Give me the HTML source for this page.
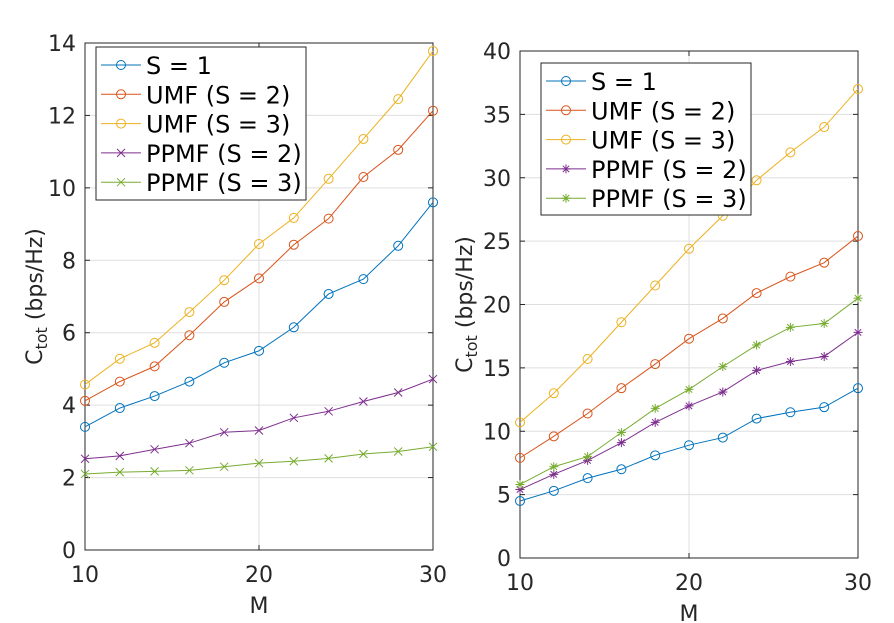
<!DOCTYPE html>
<html><head><meta charset="utf-8"><style>
body{margin:0;background:#fff;}
svg{display:block;font-family:"DejaVu Sans","Liberation Sans",sans-serif;}
</style></head><body>
<svg id="fig" width="894" height="623"></svg>
<script>
const mVals=[10,12,14,16,18,20,22,24,26,28,30];
const leftS1=[3.4,3.92,4.25,4.65,5.17,5.5,6.15,7.07,7.48,8.4,9.6];
const leftUMF2=[4.12,4.65,5.07,5.93,6.85,7.5,8.43,9.15,10.3,11.05,12.13];
const leftUMF3=[4.57,5.28,5.72,6.57,7.45,8.45,9.17,10.25,11.35,12.45,13.78];
const leftPPMF2=[2.52,2.6,2.78,2.95,3.25,3.3,3.65,3.83,4.1,4.35,4.72];
const leftPPMF3=[2.1,2.15,2.17,2.2,2.3,2.4,2.45,2.53,2.65,2.72,2.85];
const rightS1=[4.5,5.3,6.3,7.0,8.1,8.9,9.5,11.0,11.5,11.9,13.4];
const rightUMF2=[7.9,9.6,11.4,13.4,15.3,17.3,18.9,20.9,22.2,23.3,25.4];
const rightUMF3=[10.7,13.0,15.7,18.6,21.5,24.4,27.0,29.8,32.0,34.0,37.0];
const rightPPMF2=[5.4,6.6,7.7,9.1,10.7,12.0,13.1,14.8,15.5,15.9,17.8];
const rightPPMF3=[5.8,7.2,8.0,9.9,11.8,13.3,15.1,16.8,18.2,18.5,20.5];
const xTicks=[10,20,30];
const leftYTicks=[0,2,4,6,8,10,12,14];
const rightYTicks=[0,5,10,15,20,25,30,35,40];
const labels=["S = 1","UMF (S = 2)","UMF (S = 3)","PPMF (S = 2)","PPMF (S = 3)"];
const colors=["#0072BD","#D95319","#EDB120","#7E2F8E","#77AC30"];

const NS="http://www.w3.org/2000/svg";
const svg=document.getElementById('fig');
function mk(tag,attrs,parent){const e=document.createElementNS(NS,tag);for(const k in attrs)e.setAttribute(k,attrs[k]);(parent||svg).appendChild(e);return e;}

function drawPanel(name,box,ymax,yTicks,series,markers,legBox,ylabX){
  const g=mk('g',{});
  
  
  const X=v=>box.x0+(v-10)/20*(box.x1-box.x0);
  const Y=v=>box.y1-v/ymax*(box.y1-box.y0);
  xTicks.forEach(t=>{const l=mk('line',{x1:X(t),x2:X(t),y1:box.y0,y2:box.y1,stroke:'#dfdfdf','stroke-width':1},g);});
  yTicks.forEach(t=>{const l=mk('line',{x1:box.x0,x2:box.x1,y1:Y(t),y2:Y(t),stroke:'#dfdfdf','stroke-width':1},g);});
  const r=mk('rect',{x:box.x0,y:box.y0,width:box.x1-box.x0,height:box.y1-box.y0,fill:'none',stroke:'#262626','stroke-width':1},g);
  
  xTicks.forEach(t=>{
    mk('line',{x1:X(t),x2:X(t),y1:box.y1,y2:box.y1-5,stroke:'#262626'},g);
    mk('line',{x1:X(t),x2:X(t),y1:box.y0,y2:box.y0+5,stroke:'#262626'},g);
    const tx=mk('text',{x:X(t),y:box.y1+32,'font-size':22,fill:'#262626','text-anchor':'middle'},g);tx.textContent=t;
    
  });
  yTicks.forEach(t=>{
    mk('line',{x1:box.x0,x2:box.x0+5,y1:Y(t),y2:Y(t),stroke:'#262626'},g);
    mk('line',{x1:box.x1,x2:box.x1-5,y1:Y(t),y2:Y(t),stroke:'#262626'},g);
    const tx=mk('text',{x:box.x0-9,y:Y(t)+8,'font-size':22,fill:'#262626','text-anchor':'end'},g);tx.textContent=t;
    
  });
  const xl=mk('text',{x:(box.x0+box.x1)/2,y:box.y1+63,'font-size':22,fill:'#262626','text-anchor':'middle'},g);xl.textContent='M';
  
  const yl=mk('text',{transform:`translate(${ylabX},${(box.y0+box.y1)/2}) rotate(-90)`,'font-size':22,fill:'#262626','text-anchor':'middle'},g);
  yl.innerHTML='C<tspan font-size="16" dy="5">tot</tspan><tspan dy="-5"> (bps/Hz)</tspan>';
  
  function marker(type,x,y,c,parent){
    if(type==='o')mk('circle',{cx:x,cy:y,r:4.5,fill:'none',stroke:c,'stroke-width':1},parent);
    else if(type==='x'){mk('path',{d:`M${x-4},${y-4}L${x+4},${y+4}M${x-4},${y+4}L${x+4},${y-4}`,stroke:c,'stroke-width':1},parent);}
    else {mk('path',{d:`M${x-4.5},${y}L${x+4.5},${y}M${x},${y-4.5}L${x},${y+4.5}M${x-3.2},${y-3.2}L${x+3.2},${y+3.2}M${x-3.2},${y+3.2}L${x+3.2},${y-3.2}`,stroke:c,'stroke-width':1},parent);}
  }
  series.forEach((s,i)=>{
    const sg=mk('g',{},g);
    
    
    mk('polyline',{points:s.map((v,j)=>X(mVals[j])+','+Y(v)).join(' '),fill:'none',stroke:colors[i],'stroke-width':1},sg);
    s.forEach((v,j)=>marker(markers[i],X(mVals[j]),Y(v),colors[i],sg));
  });
  const lg=mk('g',{},g);
  
  mk('rect',{x:legBox.x,y:legBox.y,width:legBox.w,height:legBox.h,fill:'#fff',stroke:'#262626','stroke-width':1},lg);
  labels.forEach((lab,i)=>{
    const yy=legBox.y+18+i*29.3;
    const e=mk('g',{},lg);
    
    mk('line',{x1:legBox.x+5,x2:legBox.x+45,y1:yy,y2:yy,stroke:colors[i],'stroke-width':1},e);
    marker(markers[i],legBox.x+25,yy,colors[i],e);
    const t=mk('text',{x:legBox.x+50,y:yy+9,'font-size':24,fill:'#000'},e);t.textContent=lab;
  });
}
drawPanel('left-chart',{x0:85,x1:433,y0:43,y1:550},14,leftYTicks,[leftS1,leftUMF2,leftUMF3,leftPPMF2,leftPPMF3],['o','o','o','x','x'],{x:96,y:47,w:210,h:153},42);
drawPanel('right-chart',{x0:520,x1:858,y0:51,y1:558},40,rightYTicks,[rightS1,rightUMF2,rightUMF3,rightPPMF2,rightPPMF3],['o','o','o','*','*'],{x:541,y:63,w:210,h:152},472);
</script>
</body></html>
